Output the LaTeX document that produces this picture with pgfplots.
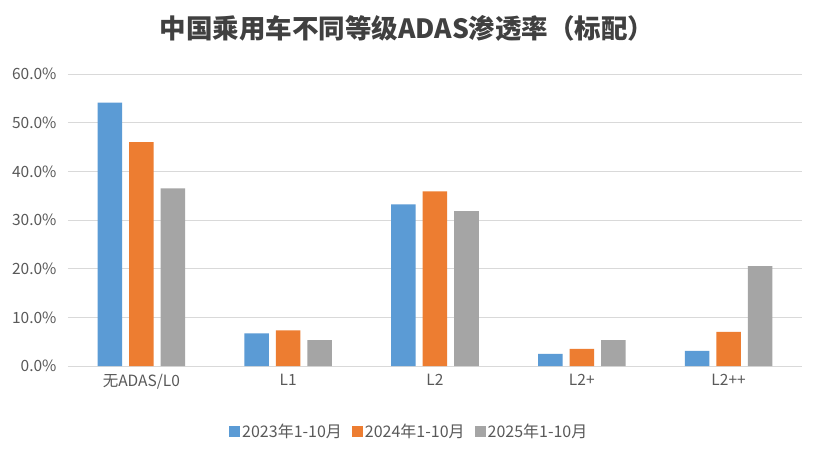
\documentclass[border=0pt]{standalone}
\usepackage{fontspec}
\setmainfont{Noto Sans CJK SC}
\usepackage{pgfplots}
\pgfplotsset{compat=1.18}
\definecolor{cblue}{HTML}{5B9BD5}
\definecolor{corange}{HTML}{ED7D31}
\definecolor{cgray}{HTML}{A5A5A5}
\definecolor{gridc}{HTML}{D9D9D9}
\definecolor{txt}{HTML}{595959}
\definecolor{ttl}{HTML}{404040}
\begin{document}
\begin{tikzpicture}[x=1pt,y=1pt]
\path[use as bounding box, fill=white] (0,0) rectangle (820,-452);
\node[font=\bfseries\fontsize{26.5}{30}\selectfont, text=ttl] at (407,-28) {中国乘用车不同等级ADAS渗透率（标配）};
\begin{axis}[
  at={(68pt,-366pt)}, anchor=south west,
  scale only axis, width=734pt, height=292pt,
  ybar, bar width=24.5pt, ybar=7pt,
  xmin=-0.5, xmax=4.5, ymin=0, ymax=60,
  xtick={0,1,2,3,4},
  xticklabels={无ADAS/L0,L1,L2,L2+,L2++},
  ytick={0,10,20,30,40,50,60},
  yticklabels={0.0\%,10.0\%,20.0\%,30.0\%,40.0\%,50.0\%,60.0\%},
  ymajorgrids, grid style={draw=gridc, line width=1pt},
  axis line style={draw=none},
  major tick length=0pt,
  tick label style={text=txt, font=\fontsize{15.5}{18}\selectfont},
  xticklabel style={yshift=-5pt},
  yticklabel style={xshift=-8pt},
  legend style={at={(axis description cs:0.465,-0.226)}, anchor=center, draw=none,
    legend columns=3, font=\fontsize{16}{19}\selectfont, text=txt,
    /tikz/every even column/.append style={column sep=8pt}},
  legend image code/.code={\fill[#1] (0pt,-5.5pt) rectangle (11pt,5.5pt);},
]
\addplot[fill=cblue, draw=none] coordinates {(0,54.1) (1,6.7) (2,33.2) (3,2.5) (4,3.1)};
\addplot[fill=corange, draw=none] coordinates {(0,46.0) (1,7.3) (2,35.9) (3,3.5) (4,7.0)};
\addplot[fill=cgray, draw=none] coordinates {(0,36.5) (1,5.3) (2,31.8) (3,5.3) (4,20.5)};
\legend{2023年1-10月,2024年1-10月,2025年1-10月}
\end{axis}
\end{tikzpicture}
\end{document}
